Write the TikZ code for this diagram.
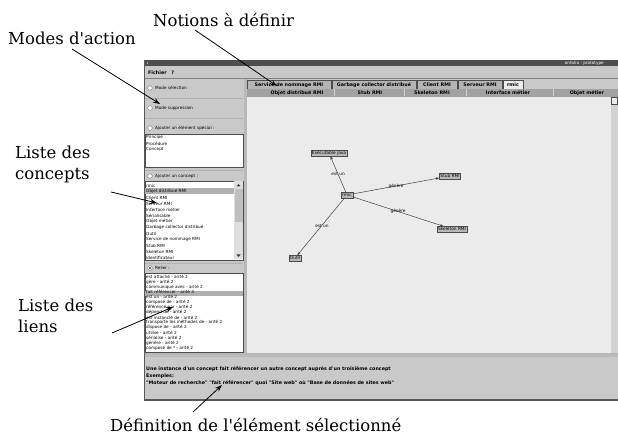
\documentclass[tikz,border=0pt]{standalone}
\usepackage{fontspec}
\setmainfont{DejaVu Serif}[Ligatures=TeXOff]
\newfontfamily\guifont{DejaVu Sans}[Ligatures=TeXOff]
\usetikzlibrary{arrows.meta}

\definecolor{winbg}{HTML}{C9C9C9}
\definecolor{titlebg}{HTML}{4E4E4E}
\definecolor{canvasbg}{HTML}{EBEBEB}
\definecolor{tabbg}{HTML}{B4B4B4}
\definecolor{headbg}{HTML}{A2A2A2}
\definecolor{selbg}{HTML}{B0B0B0}
\definecolor{nodebg}{HTML}{B9B9B9}

\tikzset{
  callout/.style={font=\fontsize{16.5}{21}\selectfont, align=left, inner sep=0pt},
  pointer/.style={-{Stealth[length=7pt,width=5pt]}, line width=0.8pt},
  guitext/.style={font=\guifont\fontsize{4.2}{5}\selectfont, inner sep=0pt, anchor=west},
  guibold/.style={font=\guifont\bfseries\fontsize{4.8}{5.6}\selectfont, inner sep=0pt},
  radio/.style={draw=gray!70!black, fill=white, line width=0.3pt},
  listbox/.style={fill=white, draw=gray!60!black, line width=0.3pt},
  gnode/.style={draw=gray!60!black, fill=nodebg, line width=0.3pt, inner sep=1pt,
    font=\guifont\fontsize{4.3}{5}\selectfont},
  glink/.style={draw=gray!50!black, line width=0.5pt, -{Stealth[length=3.5pt,width=2.6pt]}},
  glabel/.style={font=\guifont\fontsize{4.3}{5}\selectfont, inner sep=0pt}
}

\begin{document}
\begin{tikzpicture}[x=1pt,y=-1pt]
\useasboundingbox (0,0) rectangle (618,435);

% window
\fill[winbg] (144,60) rectangle (618,400);
\fill[titlebg] (144,60) rectangle (618,66);
\node[guitext, text=white, anchor=east] (wintitle) at (604,63) {ontolia - prototype};
\fill[white] (147.5,63) circle (0.6);
\node[guibold, anchor=west] (menu) at (148,72.5) {Fichier\quad ?};
\draw[gray] (144,78.5) -- (618,78.5);
\draw[gray!70!black, line width=1.2pt] (144,400) -- (618,400);
\draw[gray!70!black, line width=0.6pt] (144,60) -- (144,400);

% left panel
\fill[gray!55] (244,79) rectangle (247,354);
\foreach \yy in {98,118,170,263} {
  \draw[gray!60, line width=0.3pt] (145,\yy) -- (243,\yy);
}
\foreach \yy/\lab in {88/Mode sélection, 108/Mode suppression,
    128/Ajouter un élément spécial :, 176/Ajouter un concept :, 268/Relier :} {
  \draw[radio] (150,\yy) circle (2.3);
  \node[guitext] at (155,\yy) {\lab};
}
\fill[gray!40!black] (150,268) circle (1.1);

% special elements
\draw[listbox] (145,134) rectangle (243,167);
\foreach \lab [count=\i] in {Principe, Procédure, Concept} {
  \node[guitext] at (146,131.5+6*\i) {\lab};
}

% concepts
\draw[listbox] (145,181) rectangle (243,260);
\fill[selbg] (145.3,188.3) rectangle (233.5,194.2);
\fill[gray!25] (234,181.5) rectangle (243,259.5);
\fill[gray!50] (234.5,189) rectangle (242.5,222);
\fill[gray!40!black] (236.5,186.5) -- (240.5,186.5) -- (238.5,184) -- cycle;
\fill[gray!40!black] (236.5,254.5) -- (240.5,254.5) -- (238.5,257) -- cycle;
\foreach \lab [count=\i] in {rmic, Objet distribué RMI, Client RMI, Serveur RMI,
    Interface métier, Sérialisable, Objet métier, Garbage collector distribué,
    Outil, Service de nommage RMI, Stub RMI, Skeleton RMI, Identificateur} {
  \node[guitext] at (146,179.5+6*\i) {\lab};
}

% links
\draw[listbox] (145,273) rectangle (243,352);
\fill[selbg] (145.3,290.8) rectangle (242.7,295.8);
\foreach \lab [count=\i] in {est attaché - arité 2, gère - arité 2,
    communique avec - arité 2, fait référencer - arité 3, est un - arité 2,
    composé de - arité 2, référencé par - arité 2, dépend de - arité 2,
    est instancié de - arité 2, transporte les méthodes de - arité 2,
    dispose de - arité 2, utilise - arité 2, sérialise - arité 2,
    génère - arité 2, composé de * - arité 2} {
  \node[guitext] at (146,271.6+5.1*\i) {\lab};
}

% tabs
\foreach \xa/\xb/\lab in {247/331/Service de nommage RMI, 332/416/Garbage collector distribué,
    417/457/Client RMI, 458/502/Serveur RMI} {
  \draw[fill=tabbg, draw=gray!60!black, line width=0.3pt] (\xa,89) rectangle (\xb,80.5);
  \node[guibold] at ({(\xa+\xb)/2},84.8) {\lab};
}
\draw[fill=canvasbg, draw=gray!60!black, line width=0.3pt] (503,89) rectangle (523,80.5);
\node[guibold] (seltab) at (513,84.8) {rmic};
\fill[headbg] (247,89) rectangle (618,97);
\foreach \xs in {334,404,466,553} {
  \draw[gray!35, line width=0.4pt] (\xs,89.5) -- (\xs,96.5);
}
\foreach \xc/\lab in {297/Objet distribué RMI, 370/Stub RMI, 432/Skeleton RMI,
    508/Interface métier, 587/Objet métier} {
  \node[guibold] at (\xc,93) {\lab};
}

% canvas
\fill[canvasbg] (247,97) rectangle (611,353);
\fill[gray!35] (611,97) rectangle (618,353);
\draw[gray!60!black, fill=gray!15, line width=0.3pt] (611.5,97.5) rectangle (617.5,104);

% graph of rmic
\node[gnode] (exe) at (329,153) {Exécutable java};
\node[gnode] (rmic) at (347,195) {rmic};
\node[gnode] (stub) at (450,176) {Stub RMI};
\node[gnode] (skel) at (452,229) {Skeleton RMI};
\node[gnode] (outil) at (295,258) {Outil};
\draw[glink] (rmic) -- (exe) node[glabel, pos=0.5] {est un};
\draw[glink] (rmic) -- (stub) node[glabel, pos=0.5] {génère};
\draw[glink] (rmic) -- (skel) node[glabel, pos=0.5] {génère};
\draw[glink] (rmic) -- (outil) node[glabel, pos=0.5, xshift=1pt] {est un};

% definition
\fill[gray!55] (145,353) rectangle (618,357);
\node[guibold, anchor=west] (deftext) at (146,369)
  {Une instance d'un concept fait référencer un autre concept auprès d'un troisième concept};
\node[guibold, anchor=west] (exlabel) at (146,376) {Exemples:};
\node[guibold, anchor=west] (example) at (146,383)
  {"Moteur de recherche" "fait référencer" quoi "Site web" où "Base de données de sites web"};

% callouts
\node[callout, anchor=base west] (notions) at (153,27) {Notions à définir};
\node[callout, anchor=base west] (modes) at (8,45) {Modes d'action};
\node[callout, anchor=base west] (concepts) at (15,180) {Liste des\\concepts};
\node[callout, anchor=base west] (liens) at (18,333) {Liste des\\liens};
\node[callout, anchor=base west] (definition) at (110,431) {Définition de l'élément sélectionné};

\coordinate (notionsfoot) at (195,30);
\coordinate (modesfoot) at (72,49);
\coordinate (conceptsfoot) at (111,192);
\coordinate (liensfoot) at (112,333);
\coordinate (definitionfoot) at (193,412);
\coordinate (tipnotions) at (277,86);
\coordinate (tipmodes) at (160,104);
\coordinate (tipconcepts) at (157,203);
\coordinate (tipliens) at (173,307);
\coordinate (tipdef) at (222,385);

\draw[pointer] (notionsfoot) -- (tipnotions);
\draw[pointer] (modesfoot) -- (tipmodes);
\draw[pointer] (conceptsfoot) -- (tipconcepts);
\draw[pointer] (liensfoot) -- (tipliens);
\draw[pointer] (definitionfoot) -- (tipdef);
\end{tikzpicture}
\end{document}
